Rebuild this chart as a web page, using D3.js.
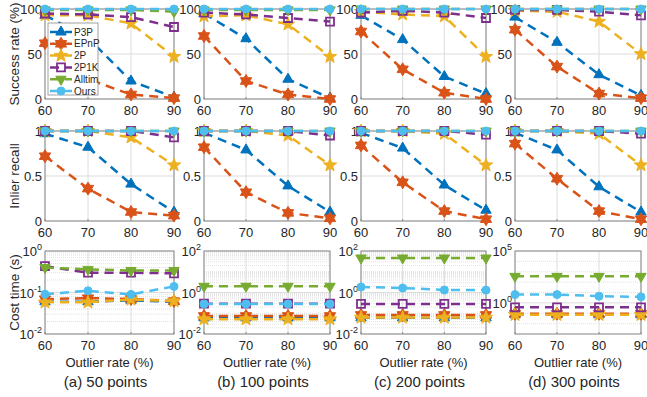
<!DOCTYPE html>
<html>
<head>
<meta charset="utf-8">
<script src="https://cdn.jsdelivr.net/npm/d3@7"></script>
<style>
  body { margin: 0; background: #fff; }
  text { font-family: "Liberation Sans", Arial, sans-serif; fill: #262626; }
</style>
</head>
<body>
<div id="chart"></div>
<script>
// outlier rates and methods
var outlier = [60, 70, 80, 90];
var methods = ["P3P", "EPnP", "2P", "2P1K", "Alltim", "Ours"];
var colors = ["#0072BD", "#D95319", "#EDB120", "#7E2F8E", "#77AC30", "#4DBEEE"];
var captions = ["(a) 50 points", "(b) 100 points", "(c) 200 points", "(d) 300 points"];

// success rate (%), one row per method
var success50  = [[93, 68, 20, 2], [62, 22, 5, 1], [93, 93, 84, 47], [95, 94, 91, 80], [99, 99, 99, 97], [100, 100, 100, 100]];
var success100 = [[95, 67, 22, 1], [70, 20, 5, 0], [92, 93, 83, 47], [96, 94, 90, 86], [99, 99, 99, 99], [100, 100, 100, 100]];
var success200 = [[93, 66, 25, 6], [75, 33, 7, 0], [97, 94, 92, 47], [96, 98, 96, 90], [100, 100, 100, 100], [100, 100, 100, 100]];
var success300 = [[91, 63, 27, 4], [77, 36, 6, 1], [98, 97, 86, 50], [99, 99, 97, 93], [100, 100, 100, 100], [100, 100, 100, 100]];

// inlier recall
var recall50  = [[0.97, 0.82, 0.41, 0.10], [0.72, 0.36, 0.10, 0.06], [1, 1, 0.93, 0.62], [1, 1, 1, 0.93], [1, 1, 1, 1], [1, 1, 1, 1]];
var recall100 = [[0.98, 0.79, 0.39, 0.10], [0.82, 0.32, 0.09, 0.03], [1, 1, 0.95, 0.62], [1, 1, 1, 0.95], [1, 1, 1, 1], [1, 1, 1, 1]];
var recall200 = [[0.98, 0.81, 0.40, 0.12], [0.84, 0.43, 0.11, 0.02], [1, 1, 0.97, 0.62], [1, 1, 1, 0.96], [1, 1, 1, 1], [1, 1, 1, 1]];
var recall300 = [[0.98, 0.79, 0.38, 0.10], [0.86, 0.47, 0.11, 0.02], [1, 1, 0.97, 0.62], [1, 1, 1, 0.97], [1, 1, 1, 1], [1, 1, 1, 1]];

// cost time (s)
var cost50  = [[0.060, 0.060, 0.065, 0.060], [0.069, 0.073, 0.070, 0.062], [0.058, 0.058, 0.068, 0.062], [0.43, 0.30, 0.30, 0.29], [0.40, 0.36, 0.34, 0.34], [0.091, 0.11, 0.09, 0.14]];
var cost100 = [[0.060, 0.060, 0.060, 0.060], [0.074, 0.074, 0.074, 0.074], [0.052, 0.052, 0.052, 0.052], [0.29, 0.29, 0.29, 0.29], [2.0, 2.0, 2.0, 2.0], [0.28, 0.28, 0.28, 0.28]];
var cost200 = [[0.060, 0.060, 0.060, 0.060], [0.083, 0.083, 0.083, 0.083], [0.062, 0.062, 0.062, 0.062], [0.28, 0.28, 0.28, 0.28], [46, 46, 46, 46], [1.85, 1.65, 1.32, 1.30]];
var cost300 = [[0.070, 0.070, 0.070, 0.070], [0.09, 0.09, 0.09, 0.09], [0.07, 0.07, 0.07, 0.07], [0.37, 0.37, 0.37, 0.37], [360, 360, 360, 360], [6.3, 6.3, 4.4, 3.8]];

var costDomains = [[1e-2, 1], [1e-2, 1e2], [1e-2, 1e2], [1e-3, 1e5]];
var costTicks = [[-2, -1, 0], [-2, 0, 2], [-2, 0, 2], [0, 5]];

var rows = [
  {label: "Success rate (%)", data: [success50, success100, success200, success300], ticks: [0, 50, 100], domain: [0, 100]},
  {label: "Inlier recall", data: [recall50, recall100, recall200, recall300], ticks: [0, 0.5, 1], domain: [0, 1]},
  {label: "Cost time (s)", data: [cost50, cost100, cost200, cost300], log: true}
];

// layout
var colX = [[45, 174], [204, 330], [361, 486], [515, 641]];
var rowY = [[9, 99], [131, 221], [251, 334]];

var svg = d3.select("#chart").append("svg")
  .attr("width", 647).attr("height", 397);

function starPts(n, R, r) {
  var p = [];
  for (var i = 0; i < 2 * n; i++) {
    var a = -Math.PI / 2 + i * Math.PI / n, rr = i % 2 ? r : R;
    p.push([rr * Math.cos(a), rr * Math.sin(a)]);
  }
  return "M" + p.join("L") + "Z";
}
var markers = [
  "M0,-6L5.2,3L-5.2,3Z",           // triangle up
  starPts(6, 6.5, 3.8),            // hexagram
  starPts(5, 7, 2.9),              // pentagram
  "M-4,-4H4V4H-4Z",                // open square
  "M0,6L5.2,-3L-5.2,-3Z",          // triangle down
  null                             // circle
];

function drawMarker(g, m, cx, cy) {
  var col = colors[m], s;
  if (m === 5) s = g.append("circle").attr("r", 4).attr("cx", cx).attr("cy", cy);
  else s = g.append("path").attr("d", markers[m]).attr("transform", "translate(" + cx + "," + cy + ")");
  s.attr("fill", m === 3 ? "none" : col).attr("stroke", col).attr("stroke-width", m === 3 ? 1.8 : 1);
}

rows.forEach(function(row, r) {
  for (var c = 0; c < 4; c++) {
    var g = svg.append("g");
    var x = d3.scaleLinear().domain([60, 90]).range(colX[c]);
    var y;
    if (row.log) y = d3.scaleLog().domain(costDomains[c]).range([rowY[r][1], rowY[r][0]]);
    else y = d3.scaleLinear().domain(row.domain).range([rowY[r][1], rowY[r][0]]);
    var x0 = colX[c][0], x1 = colX[c][1], y0 = rowY[r][0], y1 = rowY[r][1];

    // grid
    if (row.log) {
      var lo = Math.round(Math.log10(costDomains[c][0])), hi = Math.round(Math.log10(costDomains[c][1]));
      for (var e = lo; e < hi; e++) {
        var mult = (hi - lo > 5) ? [1] : [1, 2, 3, 4, 5, 6, 7, 8, 9];
        mult.forEach(function(k) {
          var v = k * Math.pow(10, e);
          if (costTicks[c].indexOf(e) >= 0 && k === 1) return;
          g.append("line").attr("x1", x0).attr("x2", x1).attr("y1", y(v)).attr("y2", y(v))
            .attr("stroke", "#d4d4d4").attr("stroke-width", 0.7).attr("stroke-dasharray", "1,1");
        });
      }
      costTicks[c].forEach(function(e) {
        g.append("line").attr("x1", x0).attr("x2", x1).attr("y1", y(Math.pow(10, e))).attr("y2", y(Math.pow(10, e)))
          .attr("stroke", "#dcdcdc").attr("stroke-width", 1);
      });
    } else {
      row.ticks.forEach(function(t) {
        g.append("line").attr("x1", x0).attr("x2", x1).attr("y1", y(t)).attr("y2", y(t))
          .attr("stroke", "#dcdcdc").attr("stroke-width", 1);
      });
    }
    outlier.forEach(function(t) {
      g.append("line").attr("x1", x(t)).attr("x2", x(t)).attr("y1", y0).attr("y2", y1)
        .attr("stroke", "#dcdcdc").attr("stroke-width", 1);
    });

    // box
    g.append("rect").attr("x", x0).attr("y", y0).attr("width", x1 - x0).attr("height", y1 - y0)
      .attr("fill", "none").attr("stroke", "#8a8a8a").attr("stroke-width", 1);

    // x tick labels
    outlier.forEach(function(t) {
      g.append("line").attr("x1", x(t)).attr("x2", x(t)).attr("y1", y1).attr("y2", y1 - 2).attr("stroke", "#8a8a8a");
      g.append("text").attr("x", x(t)).attr("y", y1 + 16).attr("text-anchor", "middle")
        .attr("font-size", 13).text(t);
    });

    // y tick labels
    if (row.log) {
      costTicks[c].forEach(function(e) {
        var t = g.append("text").attr("x", x0 - 3).attr("y", y(Math.pow(10, e)) + 5)
          .attr("text-anchor", "end").attr("font-size", 13);
        t.append("tspan").text("10");
        t.append("tspan").attr("font-size", 9).attr("dy", -6).text(e);
      });
    } else {
      row.ticks.forEach(function(tv) {
        g.append("text").attr("x", x0 - 3).attr("y", y(tv) + 4.5).attr("text-anchor", "end")
          .attr("font-size", 13).text(tv);
      });
    }

    // series
    var line = d3.line().x(function(d, i) { return x(outlier[i]); }).y(function(d) { return y(d); });
    row.data[c].forEach(function(vals, m) {
      g.append("path").attr("d", line(vals)).attr("fill", "none")
        .attr("stroke", colors[m]).attr("stroke-width", 2.5).attr("stroke-dasharray", "9,6");
      vals.forEach(function(v, i) { drawMarker(g, m, x(outlier[i]), y(v)); });
    });

    if (r === 2) {
      g.append("text").attr("x", (x0 + x1) / 2).attr("y", 367).attr("text-anchor", "middle")
        .attr("font-size", 13).text("Outlier rate (%)");
      g.append("text").attr("x", (x0 + x1) / 2 - 4).attr("y", 387).attr("text-anchor", "middle")
        .attr("font-size", 15).text(captions[c]);
    }
  }
  svg.append("text").attr("transform", "translate(19," + ((rowY[r][0] + rowY[r][1]) / 2) + ") rotate(-90)")
    .attr("text-anchor", "middle").attr("font-size", 13.5).text(row.label);
});

// legend in the first panel
var leg = svg.append("g");
leg.append("rect").attr("x", 48).attr("y", 23).attr("width", 50).attr("height", 72)
  .attr("fill", "#fff").attr("stroke", "#8a8a8a").attr("stroke-width", 0.8);
methods.forEach(function(name, m) {
  var ly = 32 + m * 11.8;
  leg.append("line").attr("x1", 50).attr("x2", 72).attr("y1", ly).attr("y2", ly)
    .attr("stroke", colors[m]).attr("stroke-width", 2.5).attr("stroke-dasharray", "9,6");
  drawMarker(leg, m, 61, ly);
  leg.append("text").attr("x", 74).attr("y", ly + 3.5).attr("font-size", 10).text(name);
});
</script>
</body>
</html>
